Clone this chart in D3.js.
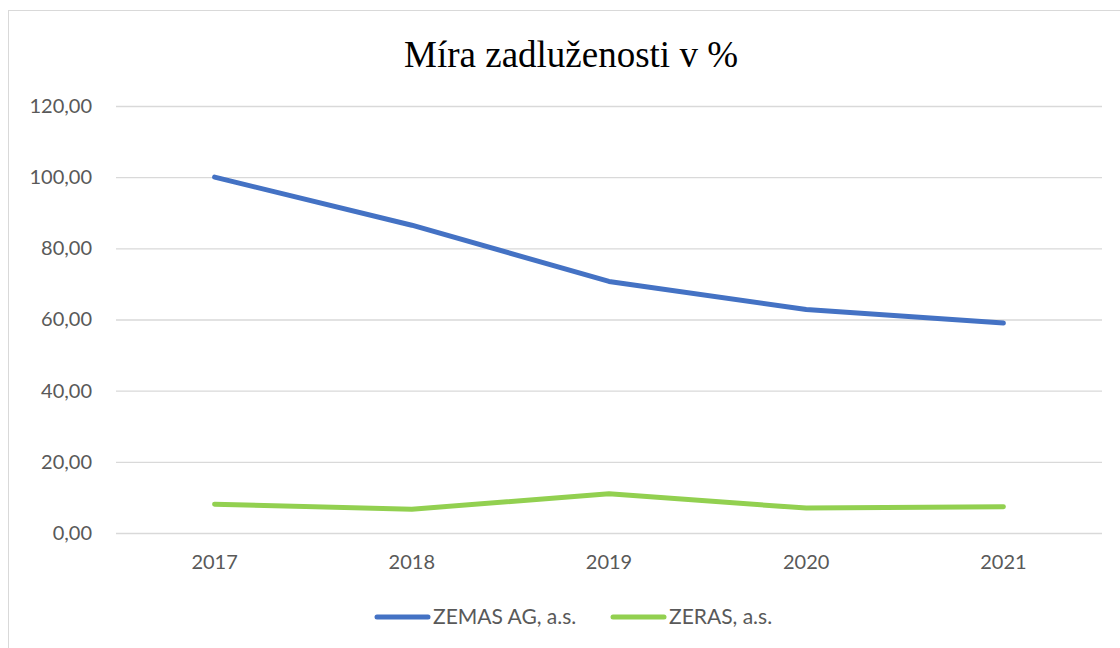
<!DOCTYPE html>
<html>
<head>
<meta charset="utf-8">
<script src="https://cdn.jsdelivr.net/npm/d3@7"></script>
<style>
  body { margin: 0; background: #fff; }
</style>
</head>
<body>
<div id="chart"></div>
<script>
// data
var years = ["2017", "2018", "2019", "2020", "2021"];
var zemas = [100.0, 86.5, 70.7, 62.8, 59.0];
var zeras = [8.1, 6.7, 11.0, 7.0, 7.4];
var seriesNames = ["ZEMAS AG, a.s.", "ZERAS, a.s."];
var yTicks = [0, 20, 40, 60, 80, 100, 120];

var svgWidth = 1120;
var svgHeight = 648;
var margin = {top: 106, bottom: 115, left: 116, right: 18};
var chartWidth = svgWidth - margin.left - margin.right;
var chartHeight = svgHeight - margin.top - margin.bottom;

var colors = ["#4472C4", "#92D050"];
var axisFont = "Lato, 'Open Sans', sans-serif";

var svg = d3.select("#chart").append("svg")
  .attr("width", svgWidth)
  .attr("height", svgHeight);

// chart frame
svg.append("rect")
  .attr("x", 8.5).attr("y", 10.5)
  .attr("width", 1120).attr("height", 650)
  .attr("fill", "none")
  .attr("stroke", "#d9d9d9");

svg.append("text")
  .attr("x", 571).attr("y", 67)
  .attr("text-anchor", "middle")
  .style("font-family", "'Liberation Serif', 'Times New Roman', serif")
  .style("font-size", "37px")
  .attr("fill", "#000")
  .text("Míra zadluženosti v %");

var chartGroup = svg.append("g")
  .attr("transform", `translate(${margin.left}, ${margin.top})`);

var xScale = d3.scaleBand()
  .domain(years)
  .range([0, chartWidth]);

var yScale = d3.scaleLinear()
  .domain([0, 120])
  .range([chartHeight, 0]);

// gridlines + y labels via axis
var leftAxis = d3.axisLeft(yScale)
  .tickValues(yTicks)
  .tickSize(-chartWidth)
  .tickPadding(24)
  .tickFormat(d => d3.format(".2f")(d).replace(".", ","));

var yAxisG = chartGroup.append("g").call(leftAxis);
yAxisG.select(".domain").remove();
yAxisG.selectAll("line").attr("stroke", "#d9d9d9").attr("stroke-width", 1.3);
yAxisG.selectAll("text")
  .attr("fill", "#595959")
  .style("font-family", axisFont)
  .style("font-size", "20px");

var bottomAxis = d3.axisBottom(xScale).tickSize(0).tickPadding(22);
var xAxisG = chartGroup.append("g")
  .attr("transform", `translate(0, ${chartHeight})`)
  .call(bottomAxis);
xAxisG.select(".domain").remove();
xAxisG.selectAll("text")
  .attr("fill", "#595959")
  .style("font-family", axisFont)
  .style("font-size", "20px");

var line = d3.line()
  .x((d, i) => xScale(years[i]) + xScale.bandwidth() / 2)
  .y(d => yScale(d));

[zemas, zeras].forEach(function(vals, k) {
  chartGroup.append("path")
    .datum(vals)
    .attr("d", line)
    .attr("fill", "none")
    .attr("stroke", colors[k])
    .attr("stroke-width", 5)
    .attr("stroke-linecap", "round")
    .attr("stroke-linejoin", "round");
});

// legend
var legendX = [377, 613];
seriesNames.forEach(function(name, k) {
  var g = svg.append("g").attr("transform", `translate(${legendX[k]}, 617)`);
  g.append("line")
    .attr("x1", 0).attr("x2", 51)
    .attr("y1", 0).attr("y2", 0)
    .attr("stroke", colors[k])
    .attr("stroke-width", 5)
    .attr("stroke-linecap", "round");
  g.append("text")
    .attr("x", 56).attr("y", 7)
    .attr("fill", "#595959")
    .style("font-family", axisFont)
    .style("font-size", "21px")
    .text(name);
});
</script>
</body>
</html>
